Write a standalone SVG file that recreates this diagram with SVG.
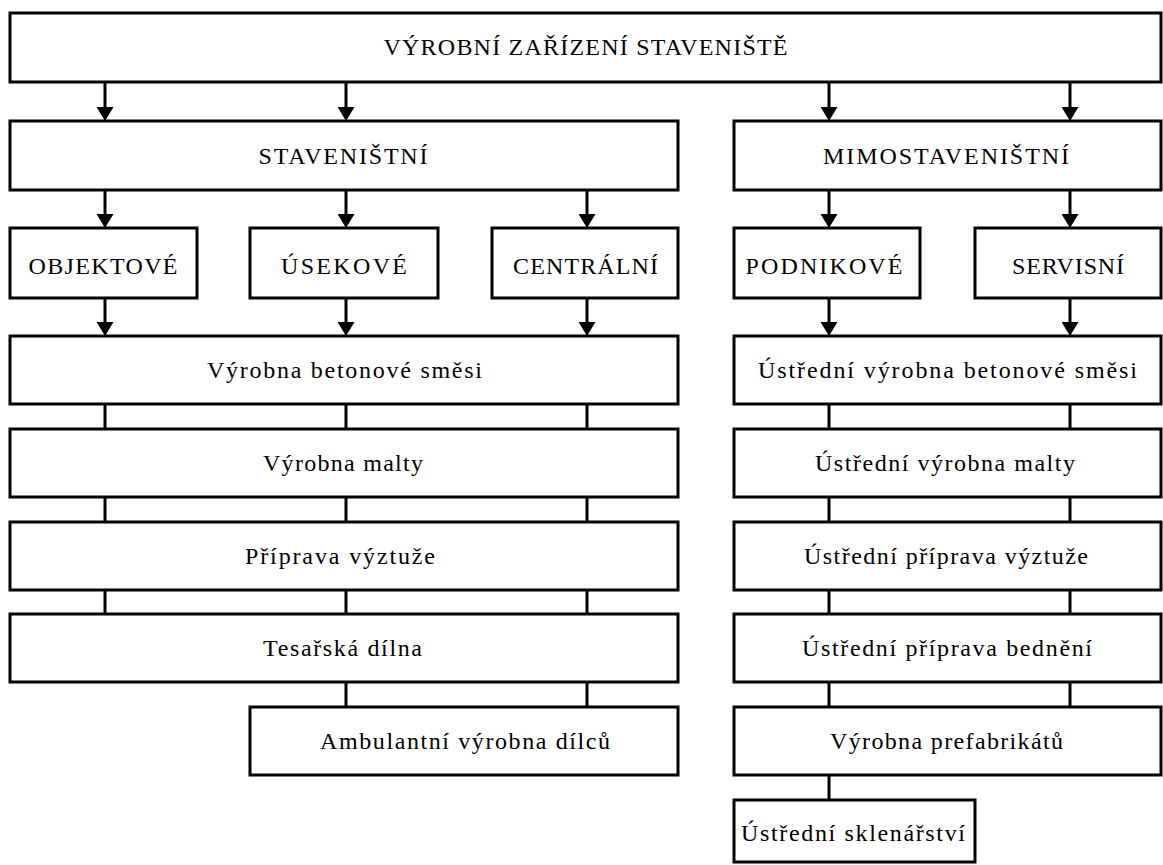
<svg xmlns="http://www.w3.org/2000/svg" width="1163" height="865" viewBox="0 0 1163 865">
<style>
.box{fill:#fff;stroke:#000;stroke-width:3}
.t{font-family:"Liberation Serif","Times New Roman",serif;font-size:24px;fill:#000;text-anchor:middle}
.ln{stroke:#000;stroke-width:3;fill:none}
.ar{stroke:#000;stroke-width:3;fill:none;marker-end:url(#ah)}
</style>
<defs>
<marker id="ah" viewBox="0 0 14 17" refX="3" refY="8.5" markerWidth="14" markerHeight="17" markerUnits="userSpaceOnUse" orient="auto">
<path d="M0,0 L14,8.5 L0,17 z" fill="#000"/>
</marker>
</defs>
<rect width="1163" height="865" fill="#fff"/>
<g id="connectors">
<path class="ar" d="M105,83 V110"/><path class="ar" d="M346,83 V110"/><path class="ar" d="M829,83 V110"/><path class="ar" d="M1070,83 V110"/>
<path class="ar" d="M105,191 V217"/><path class="ar" d="M346,191 V217"/><path class="ar" d="M587,191 V217"/><path class="ar" d="M829,191 V217"/><path class="ar" d="M1070,191 V217"/>
<path class="ar" d="M105,299 V325"/><path class="ar" d="M346,299 V325"/><path class="ar" d="M587,299 V325"/><path class="ar" d="M829,299 V325"/><path class="ar" d="M1070,299 V325"/>
<path class="ln" d="M105,404 V429 M346,404 V429 M587,404 V429 M829,404 V429 M1070,404 V429"/>
<path class="ln" d="M105,497 V522 M346,497 V522 M587,497 V522 M829,497 V522 M1070,497 V522"/>
<path class="ln" d="M105,590 V614 M346,590 V614 M587,590 V614 M829,590 V614 M1070,590 V614"/>
<path class="ln" d="M346,682 V707 M587,682 V707 M829,682 V707 M1070,682 V707"/>
<path class="ln" d="M829,775 V800"/>
</g>
<g id="n-vyrobni"><rect class="box" x="10" y="13" width="1151" height="69"/><text class="t" x="585.5" y="55" textLength="404" lengthAdjust="spacing">VÝROBNÍ ZAŘÍZENÍ STAVENIŠTĚ</text></g>
<g id="n-stav"><rect class="box" x="10" y="121" width="668" height="69"/><text class="t" x="343" y="164" textLength="169" lengthAdjust="spacing">STAVENIŠTNÍ</text></g>
<g id="n-mimo"><rect class="box" x="734" y="121" width="427" height="69"/><text class="t" x="946" y="164" textLength="246" lengthAdjust="spacing">MIMOSTAVENIŠTNÍ</text></g>
<g id="n-obj"><rect class="box" x="10" y="228" width="187" height="70"/><text class="t" x="103" y="274" textLength="149" lengthAdjust="spacing">OBJEKTOVÉ</text></g>
<g id="n-usek"><rect class="box" x="250" y="228" width="188" height="70"/><text class="t" x="344" y="274" textLength="126" lengthAdjust="spacing">ÚSEKOVÉ</text></g>
<g id="n-centr"><rect class="box" x="492" y="228" width="186" height="70"/><text class="t" x="585.5" y="274" textLength="145" lengthAdjust="spacing">CENTRÁLNÍ</text></g>
<g id="n-podn"><rect class="box" x="734" y="228" width="186" height="70"/><text class="t" x="824" y="274" textLength="157" lengthAdjust="spacing">PODNIKOVÉ</text></g>
<g id="n-serv"><rect class="box" x="975" y="228" width="186" height="70"/><text class="t" x="1068" y="274" textLength="112" lengthAdjust="spacing">SERVISNÍ</text></g>
<g id="n-beton"><rect class="box" x="10" y="336" width="668" height="68"/><text class="t" x="344.5" y="378" textLength="275" lengthAdjust="spacing">Výrobna betonové směsi</text></g>
<g id="n-malta"><rect class="box" x="10" y="429" width="668" height="68"/><text class="t" x="343" y="471" textLength="160" lengthAdjust="spacing">Výrobna malty</text></g>
<g id="n-vyztuz"><rect class="box" x="10" y="522" width="668" height="68"/><text class="t" x="340" y="564" textLength="190" lengthAdjust="spacing">Příprava výztuže</text></g>
<g id="n-tesar"><rect class="box" x="10" y="614" width="668" height="68"/><text class="t" x="342.5" y="656" textLength="159" lengthAdjust="spacing">Tesařská dílna</text></g>
<g id="n-ambul"><rect class="box" x="250" y="707" width="428" height="68"/><text class="t" x="465" y="749" textLength="290" lengthAdjust="spacing">Ambulantní výrobna dílců</text></g>
<g id="n-ubeton"><rect class="box" x="734" y="336" width="427" height="68"/><text class="t" x="947.5" y="378" textLength="379" lengthAdjust="spacing">Ústřední výrobna betonové směsi</text></g>
<g id="n-umalta"><rect class="box" x="734" y="429" width="427" height="68"/><text class="t" x="945" y="471" textLength="260" lengthAdjust="spacing">Ústřední výrobna malty</text></g>
<g id="n-uvyztuz"><rect class="box" x="734" y="522" width="427" height="68"/><text class="t" x="946" y="564" textLength="284" lengthAdjust="spacing">Ústřední příprava výztuže</text></g>
<g id="n-ubedn"><rect class="box" x="734" y="614" width="427" height="68"/><text class="t" x="947" y="656" textLength="290" lengthAdjust="spacing">Ústřední příprava bednění</text></g>
<g id="n-prefab"><rect class="box" x="734" y="707" width="427" height="68"/><text class="t" x="946.5" y="749" textLength="233" lengthAdjust="spacing">Výrobna prefabrikátů</text></g>
<g id="n-sklen"><rect class="box" x="734" y="800" width="241" height="62"/><text class="t" x="853" y="841" textLength="224" lengthAdjust="spacing">Ústřední sklenářství</text></g>
</svg>
